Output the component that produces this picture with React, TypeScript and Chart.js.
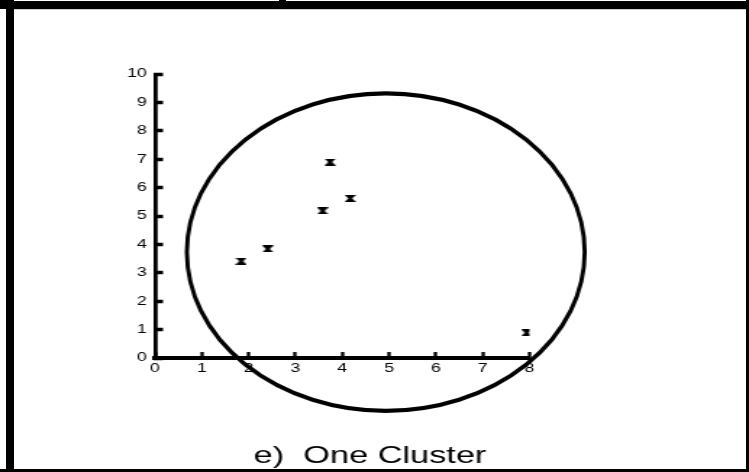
import { useEffect, useRef } from "react";
import { Chart, registerables } from "chart.js";

Chart.register(...registerables);

// Observations
const pointX = [1.84, 2.41, 3.58, 3.74, 4.17, 7.94];
const pointY = [3.41, 3.84, 5.18, 6.9, 5.62, 0.89];

// Cluster outline: centre and radii in data units
const clusterCenter = [4.93, 3.73];
const clusterRadii = [4.25, 5.59];

// Axis ranges
const xRange = [0, 8];
const yRange = [0, 10];

const caption = "e)  One Cluster";

// The figure is drawn narrow and widened horizontally on the page
const PAGE_W = 749;
const PAGE_H = 472;
const CANVAS_W = 517;
const STRETCH = PAGE_W / CANVAS_W;

const FONT = '"Liberation Sans", Arial, Helvetica, sans-serif';

function makeMarker(): HTMLCanvasElement {
  const c = document.createElement("canvas");
  c.width = 8;
  c.height = 7;
  const g = c.getContext("2d")!;
  g.fillStyle = "#000";
  g.beginPath();
  g.moveTo(0, 0);
  g.lineTo(8, 0);
  g.lineTo(5.3, 3.5);
  g.lineTo(8, 7);
  g.lineTo(0, 7);
  g.lineTo(2.7, 3.5);
  g.closePath();
  g.fill();
  return c;
}

const clusterPlugin = {
  id: "clusterOutline",
  afterDraw(chart: any) {
    const { ctx, scales } = chart;
    const xs = scales.x;
    const ys = scales.y;
    const cx = xs.getPixelForValue(clusterCenter[0]);
    const cy = ys.getPixelForValue(clusterCenter[1]);
    const rx = Math.abs(xs.getPixelForValue(clusterCenter[0] + clusterRadii[0]) - cx);
    const ry = Math.abs(ys.getPixelForValue(clusterCenter[1] + clusterRadii[1]) - cy);
    ctx.save();
    ctx.beginPath();
    ctx.ellipse(cx, cy, rx, ry, 0, 0, Math.PI * 2);
    // keep the pen round once the canvas is widened
    ctx.scale(1 / STRETCH, 1);
    ctx.lineWidth = 4.2;
    ctx.strokeStyle = "#000";
    ctx.stroke();
    ctx.restore();

    ctx.save();
    ctx.fillStyle = "#000";
    ctx.font = `23.7px ${FONT}`;
    ctx.textAlign = "center";
    ctx.textBaseline = "alphabetic";
    ctx.fillText(caption, 370 / STRETCH, 463);
    ctx.restore();
  },
};

export default function App() {
  const canvasRef = useRef<HTMLCanvasElement | null>(null);

  useEffect(() => {
    if (!canvasRef.current) return;
    const marker = makeMarker();
    const plotRight = 529.5 / STRETCH;
    const chart = new Chart(canvasRef.current, {
      type: "scatter",
      data: {
        datasets: [
          {
            data: pointX.map((x, i) => ({ x, y: pointY[i] })),
            pointStyle: marker as any,
            pointRadius: 4,
            pointHoverRadius: 4,
            backgroundColor: "#000",
            borderColor: "#000",
          },
        ],
      },
      options: {
        animation: false,
        responsive: false,
        maintainAspectRatio: false,
        events: [],
        layout: {
          padding: { left: 0, right: CANVAS_W - plotRight, top: 74, bottom: 84 },
        },
        plugins: {
          legend: { display: false },
          tooltip: { enabled: false },
          title: { display: false },
        },
        scales: {
          x: {
            type: "linear",
            min: xRange[0],
            max: xRange[1],
            ticks: {
              stepSize: 1,
              color: "#000",
              padding: 9.5,
              font: { family: FONT, size: 12.2 },
            },
            grid: {
              drawOnChartArea: false,
              drawTicks: true,
              tickLength: -6,
              tickWidth: 2.3,
              tickColor: "#000",
            },
            border: { display: true, color: "#000", width: 4 },
            afterFit: (s: any) => {
              s.height = 30;
            },
          },
          y: {
            type: "linear",
            min: yRange[0],
            max: yRange[1],
            ticks: {
              stepSize: 1,
              color: "#000",
              padding: 11.1,
              font: { family: FONT, size: 12.2 },
            },
            grid: {
              drawOnChartArea: false,
              drawTicks: true,
              tickLength: -5.5,
              tickWidth: 3.5,
              tickColor: "#000",
            },
            border: { display: true, color: "#000", width: 2.8 },
            afterFit: (s: any) => {
              s.width = 107;
            },
          },
        },
      },
      plugins: [clusterPlugin],
    });
    return () => chart.destroy();
  }, []);

  const bar = (l: number, t: number, w: number, h: number, c = "#000") => (
    <div
      style={{ position: "absolute", left: l, top: t, width: w, height: h, background: c }}
    />
  );

  return (
    <div
      style={{
        position: "fixed",
        left: 0,
        top: 0,
        width: PAGE_W,
        height: PAGE_H,
        background: "#fff",
        overflow: "hidden",
      }}
    >
      <div
        style={{
          position: "absolute",
          left: 0,
          top: 0,
          width: CANVAS_W,
          height: PAGE_H,
          transform: `scaleX(${STRETCH})`,
          transformOrigin: "0 0",
        }}
      >
        <canvas
          ref={canvasRef}
          width={CANVAS_W}
          height={PAGE_H}
          style={{ display: "block", width: CANVAS_W, height: PAGE_H }}
        />
      </div>
      {bar(0, 1, PAGE_W, 8)}
      {bar(14, 9, PAGE_W - 17, 1, "#ccc")}
      {bar(6, 0, 8, PAGE_H)}
      {bar(0, 0, 14, 1)}
      {bar(279, 0, 7, 1)}
      {bar(746, 0, 3, PAGE_H)}
      {bar(0, 469, PAGE_W, 3)}
    </div>
  );
}
